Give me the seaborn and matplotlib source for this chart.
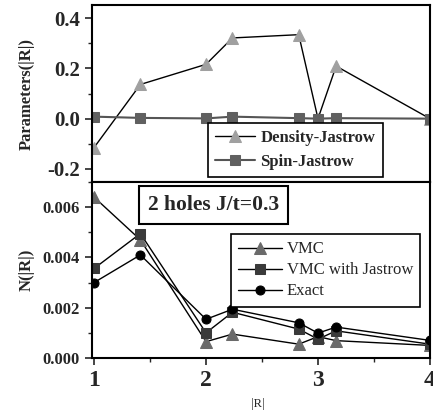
import numpy as np
import pandas as pd
import matplotlib
matplotlib.use("Agg")
import matplotlib.pyplot as plt
import seaborn as sns
from matplotlib.ticker import MultipleLocator

R = [1.0, 1.414, 2.0, 2.236, 2.828, 3.0, 3.162, 4.0]
density_jastrow = [-0.115, 0.136, 0.216, 0.321, 0.334, 0.0, 0.209, 0.0]
spin_jastrow = [0.008, 0.003, 0.001, 0.008, 0.002, 0.0, 0.002, 0.0]
vmc = [0.0064, 0.0047, 0.00065, 0.00095, 0.00055, 0.00085, 0.00069, 0.0005]
vmc_jastrow = [0.00356, 0.00495, 0.0010, 0.00182, 0.00115, 0.00075, 0.00108, 0.00055]
exact = [0.0030, 0.0041, 0.00154, 0.00194, 0.0014, 0.00099, 0.00123, 0.0007]

sns.set_style("ticks")
plt.rcParams['font.family'] = ['Liberation Serif', 'DejaVu Serif']
plt.rcParams['axes.linewidth'] = 1.5

fig = plt.figure(figsize=(4.33, 4.17), dpi=100)
ax1 = fig.add_axes([0.212, 0.5635, 0.781, 0.4245])
ax2 = fig.add_axes([0.212, 0.1415, 0.781, 0.422], sharex=ax1)

df = pd.DataFrame({"R": R, "dj": density_jastrow, "sj": spin_jastrow,
                   "vmc": vmc, "vj": vmc_jastrow, "ex": exact})

sns.lineplot(data=df, x="R", y="dj", ax=ax1, color="black", lw=1.0, marker="^",
             markersize=9, markerfacecolor="#a0a0a0", markeredgecolor="#a0a0a0",
             label="Density-Jastrow")
sns.lineplot(data=df, x="R", y="sj", ax=ax1, color="#555555", lw=1.5, marker="s",
             markersize=6.5, markerfacecolor="#606060", markeredgecolor="#606060",
             label="Spin-Jastrow")

sns.lineplot(data=df, x="R", y="vmc", ax=ax2, color="black", lw=1.0, marker="^",
             markersize=9, markerfacecolor="#6a6a6a", markeredgecolor="#6a6a6a",
             label="VMC")
sns.lineplot(data=df, x="R", y="vj", ax=ax2, color="black", lw=1.0, marker="s",
             markersize=6.5, markerfacecolor="#3a3a3a", markeredgecolor="#3a3a3a",
             label="VMC with Jastrow")
sns.lineplot(data=df, x="R", y="ex", ax=ax2, color="black", lw=1.0, marker="o",
             markersize=6.5, markerfacecolor="black", markeredgecolor="black",
             label="Exact")

ax1.set_xlim(0.98, 4.0)
ax1.set_ylim(-0.252, 0.452)
ax2.set_ylim(0.0, 0.007)

ax1.yaxis.set_major_locator(MultipleLocator(0.2))
ax1.yaxis.set_minor_locator(MultipleLocator(0.1))
ax2.yaxis.set_major_locator(MultipleLocator(0.002))
ax2.yaxis.set_minor_locator(MultipleLocator(0.001))
ax2.xaxis.set_major_locator(MultipleLocator(1))
ax2.xaxis.set_minor_locator(MultipleLocator(0.5))

for ax in (ax1, ax2):
    for s in ax.spines.values():
        s.set_visible(True)
        s.set_linewidth(1.5)
        s.set_color("black")
    ax.tick_params(which="major", direction="out", length=5, width=1.2)
    ax.tick_params(which="minor", direction="out", length=3, width=1.0)

ax1.set_yticks([-0.2, 0.0, 0.2, 0.4])
ax1.set_yticklabels(["-0.2", "0.0", "0.2", "0.4"], fontweight="bold", fontsize=15)
ax2.set_yticks([0.0, 0.002, 0.004, 0.006])
ax2.set_yticklabels(["0.000", "0.002", "0.004", "0.006"], fontweight="bold", fontsize=12)
ax2.set_xticks([1, 2, 3, 4])
ax2.set_xticklabels(["1", "2", "3", "4"], fontweight="bold", fontsize=17)
plt.setp(ax1.get_xticklabels(), visible=False)
ax1.set_xlabel("")

ax1.set_ylabel("Parameters(|R|)", fontweight="bold", fontsize=12)
ax2.set_ylabel("N(|R|)", fontweight="bold", fontsize=12)
ax2.set_xlabel("|R|", fontsize=9)
ax2.xaxis.set_label_coords(0.49, -0.225)
ax1.yaxis.set_label_coords(-0.17, 0.5)
ax2.yaxis.set_label_coords(-0.17, 0.5)

leg1 = ax1.legend(loc="lower left", bbox_to_anchor=(0.343, 0.028), borderaxespad=0,
                  fancybox=False, edgecolor="black", framealpha=1, borderpad=0.45,
                  labelspacing=0.45, handlelength=2.4, handletextpad=0.3,
                  prop={"weight": "bold", "size": 12})
leg1.get_frame().set_linewidth(1.2)
leg2 = ax2.legend(loc="upper left", bbox_to_anchor=(0.411, 0.705), borderaxespad=0,
                  fancybox=False, edgecolor="black", framealpha=1, borderpad=0.45,
                  labelspacing=0.3, handlelength=2.6, handletextpad=0.3,
                  prop={"size": 12})
leg2.get_frame().set_linewidth(1.2)

ax2.text(0.167, 0.87, "2 holes J/t=0.3", transform=ax2.transAxes, fontsize=15.5,
         fontweight="bold", va="center", ha="left",
         bbox=dict(boxstyle="square,pad=0.42", fc="white", ec="black", lw=1.5))

fig.savefig("out.png", dpi=100)
